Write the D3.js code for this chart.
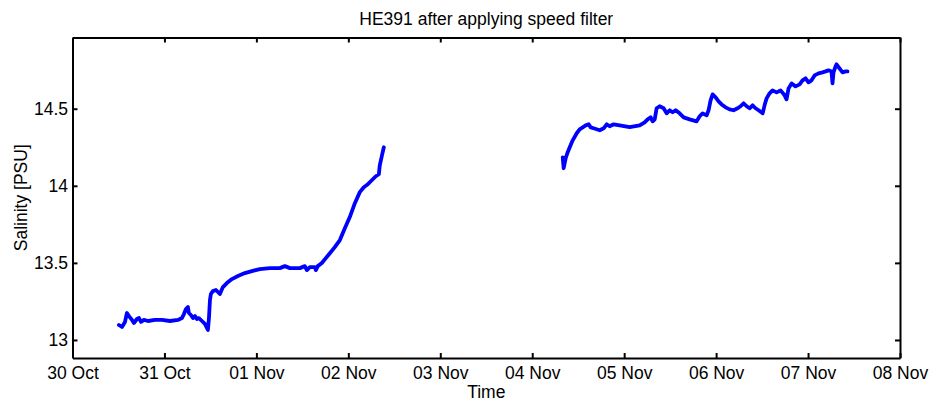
<!DOCTYPE html>
<html>
<head>
<meta charset="utf-8">
<script src="https://cdn.jsdelivr.net/npm/d3@7"></script>
<style>
  body { margin: 0; background: #fff; }
  text { font-family: "Liberation Sans", Arial, sans-serif; }
</style>
</head>
<body>
<script>
// salinity track, days since 30 Oct, split in two legs (gap on 03/04 Nov)
var leg1Days = [0.505,0.538,0.571,0.592,0.614,0.647,0.668,0.701,0.723,0.745,0.777,0.821,0.897,0.973,1.060,1.147,1.190,1.212,1.234,1.255,1.266,1.288,1.310,1.332,1.353,1.375,1.408,1.440,1.462,1.473,1.484,1.495,1.505,1.527,1.560,1.582,1.603,1.636,1.679,1.734,1.799,1.875,1.951,2.038,2.147,2.255,2.310,2.364,2.473,2.527,2.549,2.582,2.636,2.647,2.668,2.712,2.755,2.799,2.853,2.908,2.962,3.016,3.071,3.125,3.168,3.212,3.255,3.299,3.332,3.342,3.364,3.386];
var leg1Sal = [13.097,13.084,13.117,13.175,13.155,13.130,13.110,13.136,13.142,13.117,13.130,13.123,13.130,13.130,13.123,13.130,13.142,13.168,13.201,13.214,13.175,13.162,13.142,13.155,13.136,13.142,13.123,13.104,13.078,13.065,13.142,13.259,13.298,13.317,13.324,13.311,13.298,13.343,13.369,13.395,13.415,13.434,13.447,13.460,13.466,13.466,13.479,13.466,13.466,13.479,13.453,13.473,13.473,13.453,13.479,13.499,13.531,13.563,13.602,13.648,13.725,13.797,13.887,13.959,13.991,14.010,14.036,14.062,14.075,14.133,14.192,14.250];

var leg2Days = [5.332,5.342,5.364,5.386,5.408,5.440,5.484,5.516,5.549,5.582,5.614,5.636,5.668,5.734,5.777,5.810,5.842,5.886,5.951,6.060,6.168,6.223,6.255,6.288,6.310,6.332,6.353,6.386,6.429,6.462,6.495,6.527,6.560,6.603,6.647,6.712,6.788,6.821,6.853,6.897,6.918,6.940,6.962,6.995,7.027,7.060,7.103,7.147,7.190,7.234,7.266,7.299,7.332,7.364,7.397,7.429,7.462,7.506,7.527,7.549,7.582,7.614,7.658,7.701,7.745,7.766,7.788,7.821,7.864,7.908,7.940,7.973,8.005,8.038,8.071,8.114,8.158,8.190,8.223,8.255,8.266,8.277,8.299,8.310,8.342,8.375,8.408,8.429];
var leg2Sal = [14.185,14.114,14.179,14.218,14.250,14.295,14.341,14.366,14.379,14.392,14.399,14.379,14.373,14.360,14.373,14.399,14.386,14.399,14.392,14.380,14.392,14.412,14.431,14.444,14.418,14.431,14.503,14.516,14.503,14.470,14.490,14.477,14.490,14.470,14.444,14.431,14.418,14.451,14.470,14.457,14.490,14.554,14.593,14.574,14.548,14.528,14.509,14.496,14.490,14.503,14.516,14.535,14.516,14.503,14.522,14.503,14.490,14.470,14.522,14.567,14.600,14.619,14.606,14.619,14.587,14.561,14.632,14.664,14.645,14.658,14.684,14.697,14.671,14.684,14.716,14.729,14.736,14.742,14.749,14.742,14.665,14.736,14.775,14.788,14.762,14.736,14.742,14.742];

var yTicks = [13, 13.5, 14, 14.5];
var yRange = [12.883, 14.962];

var startDate = new Date(2013, 9, 30);
function toDate(d) { return new Date(startDate.getTime() + d * 864e5); }

var margin = {top: 37.5, right: 32, bottom: 45, left: 72.5},
    W = 932, H = 403,
    width = W - margin.left - margin.right,
    height = H - margin.top - margin.bottom;

var fs = "17.5px";

var svg = d3.select("body").append("svg")
    .attr("width", W)
    .attr("height", H);

var g = svg.append("g")
    .attr("transform", "translate(" + margin.left + "," + margin.top + ")");

var x = d3.scaleTime()
    .domain([startDate, toDate(9)])
    .range([0, width]);

var y = d3.scaleLinear()
    .domain(yRange)
    .range([height, 0]);

var xTicks = d3.range(0, 10).map(toDate);
var fmt = d3.timeFormat("%d %b");

// data lines
var line = d3.line()
    .x(function(d) { return x(d[0]); })
    .y(function(d) { return y(d[1]); });

[[leg1Days, leg1Sal], [leg2Days, leg2Sal]].forEach(function(leg) {
  var pts = leg[0].map(function(d, i) { return [toDate(d), leg[1][i]]; });
  g.append("path")
    .datum(pts)
    .attr("fill", "none")
    .attr("stroke", "#0000ff")
    .attr("stroke-width", 3.8)
    .attr("stroke-linejoin", "round")
    .attr("stroke-linecap", "round")
    .attr("d", line);
});

// axes, ticks pointing inward, box around plot
var tk = 5;
var axBottom = g.append("g")
    .attr("transform", "translate(0," + height + ")")
    .call(d3.axisBottom(x).tickValues(xTicks).tickFormat(fmt).tickSizeInner(-tk).tickSizeOuter(0).tickPadding(8.5));
var axTop = g.append("g")
    .call(d3.axisTop(x).tickValues(xTicks).tickFormat("").tickSizeInner(-tk).tickSizeOuter(0));
var axLeft = g.append("g")
    .call(d3.axisLeft(y).tickValues(yTicks).tickFormat(d3.format("")).tickSizeInner(-tk).tickSizeOuter(0).tickPadding(4.5));
var axRight = g.append("g")
    .attr("transform", "translate(" + width + ",0)")
    .call(d3.axisRight(y).tickValues(yTicks).tickFormat("").tickSizeInner(-tk).tickSizeOuter(0));

[axBottom, axTop, axLeft, axRight].forEach(function(a) {
  a.selectAll("path").attr("stroke", "#000").attr("stroke-width", 2);
  a.selectAll("line").attr("stroke", "#000").attr("stroke-width", 2);
  a.selectAll("text").attr("fill", "#000").style("font-size", fs);
});

// titles
svg.append("text")
    .attr("x", margin.left + width / 2)
    .attr("y", 25)
    .attr("text-anchor", "middle")
    .style("font-size", fs)
    .text("HE391 after applying speed filter");

svg.append("text")
    .attr("x", margin.left + width / 2)
    .attr("y", 398)
    .attr("text-anchor", "middle")
    .style("font-size", fs)
    .text("Time");

svg.append("text")
    .attr("transform", "translate(27," + (margin.top + height / 2) + ") rotate(-90)")
    .attr("text-anchor", "middle")
    .style("font-size", fs)
    .text("Salinity [PSU]");
</script>
</body>
</html>
